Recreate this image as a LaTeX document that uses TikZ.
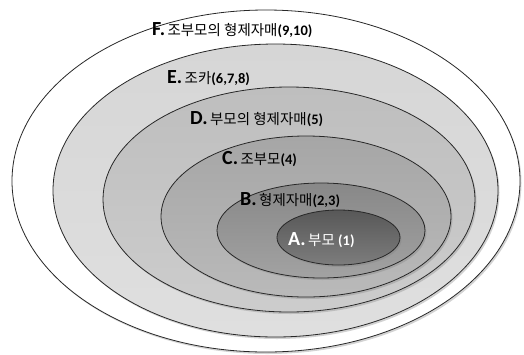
\documentclass[tikz,border=0pt]{standalone}
\usepackage{fontspec}
\setmainfont{Carlito}
\newfontfamily\kor{Noto Sans CJK KR}
\usepackage{tikz}
\usetikzlibrary{shapes.geometric, shadows, positioning}
\definecolor{RingLine}{RGB}{40,40,40}
\definecolor{RingE}{RGB}{214,214,214}
\definecolor{RingD}{RGB}{190,190,190}
\definecolor{RingC}{RGB}{166,166,166}
\definecolor{RingB}{RGB}{136,136,136}
\definecolor{RingA}{RGB}{88,88,88}
\newcommand{\ringletter}{\bfseries\fontsize{20}{22}\selectfont}

\begin{document}
\begin{tikzpicture}[x=1pt, y=-1pt,
	ring/.style={ellipse, draw=RingLine, line width=0.8pt, inner sep=0pt,
		drop shadow={shadow xshift=1.5pt, shadow yshift=-2pt, opacity=0.35}},
	lbl/.style={anchor=base west, inner sep=0pt, font=\bfseries\fontsize{14.5}{16}\selectfont}]
	\useasboundingbox (0,0) rectangle (524,354);
	% kringen van buiten naar binnen
	\node[ring, fill=white, minimum width=508pt, minimum height=342pt] (rF) at (266,181) {};
	\foreach \n/\x/\y/\w/\h/\c in {E/275.5/190.5/445/293/RingE, D/289/199.5/372/225/RingD,
		C/306/216.5/290/161/RingC, B/321/230.5/208/95/RingB, A/338.5/237.5/123/55/RingA}{
		\node[ring, top color=\c, bottom color=\c!78!white,
			minimum width=\w pt, minimum height=\h pt] (r\n) at (\x,\y) {};}
	% opschriften
	\node[lbl] (tF) at (152,35) {{\ringletter F.}\,{\kor\mdseries 조부모의 형제자매}(9,10)};
	\node[lbl] (tE) at (167,83) {{\ringletter E.}\,{\kor\mdseries 조카}(6,7,8)};
	\node[lbl] (tD) at (190,124) {{\ringletter D.}\,{\kor\mdseries 부모의 형제자매}(5)};
	\node[lbl] (tC) at (222,164) {{\ringletter C.}\,{\kor\mdseries 조부모}(4)};
	\node[lbl] (tB) at (240,205) {{\ringletter B.}\,{\kor\mdseries 형제자매}(2,3)};
	\node[lbl, text=white] (tA) at (288,245) {{\ringletter A.}\,{\kor\mdseries 부모} (1)};
\end{tikzpicture}
\end{document}
